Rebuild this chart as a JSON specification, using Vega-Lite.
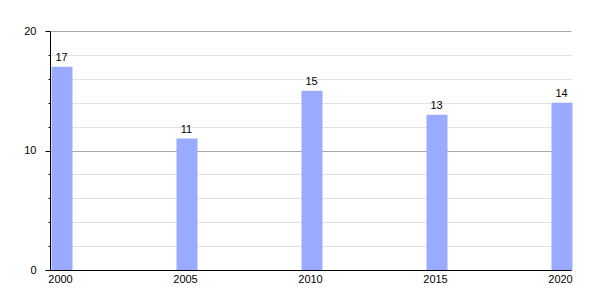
{
  "$schema": "https://vega.github.io/schema/vega-lite/v6.json",
  "autosize": "none",
  "width": 521,
  "height": 239,
  "padding": {"left": 50, "top": 31, "right": 29, "bottom": 30},
  "background": "white",
  "config": {
    "view": {"stroke": null},
    "font": "Liberation Sans",
    "axis": {"labelFont": "Liberation Sans", "labelFontSize": 11, "labelColor": "black"}
  },
  "data": {
    "values": [
      {"year": "2000", "value": 17},
      {"year": "2005", "value": 11},
      {"year": "2010", "value": 15},
      {"year": "2015", "value": 13},
      {"year": "2020", "value": 14}
    ]
  },
  "encoding": {
    "x": {
      "field": "year",
      "type": "nominal",
      "sort": null,
      "scale": {"paddingInner": 0.832, "paddingOuter": 0},
      "axis": {
        "title": null,
        "labelAngle": 0,
        "ticks": false,
        "labelPadding": 3,
        "domainColor": "black",
        "domainWidth": 1,
        "grid": false,
        "zindex": 1
      }
    },
    "y": {
      "field": "value",
      "type": "quantitative",
      "scale": {"domain": [0, 20], "nice": false},
      "axis": {
        "title": null,
        "values": [0, 2, 4, 6, 8, 10, 12, 14, 16, 18, 20],
        "labelExpr": "datum.value % 10 === 0 ? datum.label : ''",
        "domainColor": "black",
        "tickColor": "black",
        "tickSize": {"condition": {"test": "datum.value % 10 === 0", "value": 5}, "value": 2},
        "labelPadding": 9,
        "grid": true,
        "gridColor": {"condition": {"test": "datum.value % 10 === 0", "value": "#a8a8a8"}, "value": "#e2e2e2"},
        "gridWidth": 1
      }
    }
  },
  "layer": [
    {"mark": {"type": "bar", "color": "#9aabff", "xOffset": 1.5}},
    {
      "mark": {"type": "text", "baseline": "bottom", "dy": -4, "xOffset": 1, "fontSize": 11, "color": "black", "font": "Liberation Sans"},
      "encoding": {"text": {"field": "value", "type": "quantitative"}}
    }
  ]
}
